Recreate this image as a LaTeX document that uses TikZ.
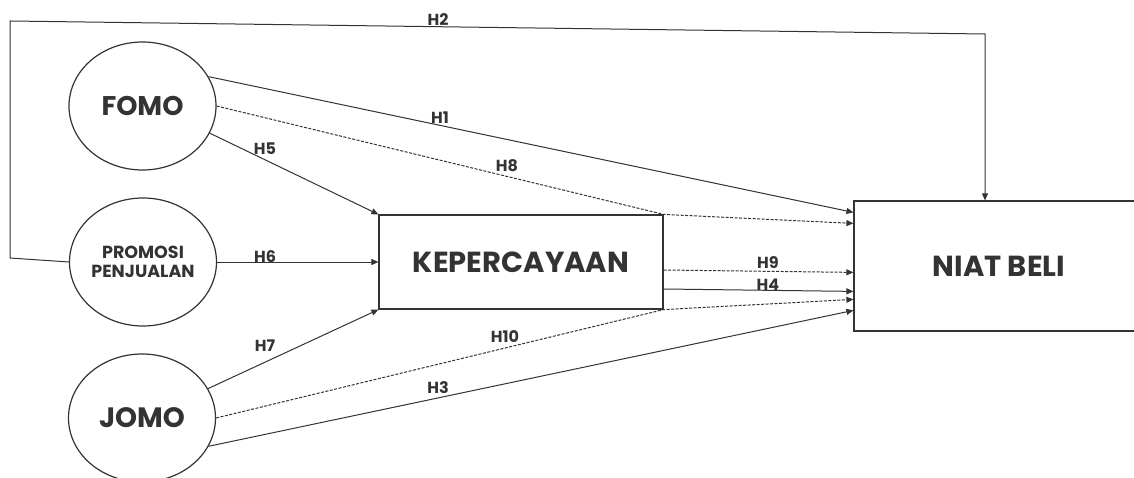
\documentclass[tikz,border=0pt]{standalone}
\usepackage{fontspec}
\setmainfont{Poppins}
\usetikzlibrary{shapes.geometric,arrows.meta,calc}
\definecolor{ink}{HTML}{333333}
\begin{document}
\begin{tikzpicture}[x=1pt,y=-1pt,
  every node/.style={text=ink},
  var/.style={ellipse,draw=ink,line width=1.2pt,minimum width=147pt,minimum height=128pt,inner sep=0pt,align=center},
  box/.style={rectangle,draw=ink,line width=1.2pt,inner sep=0pt,font=\fontsize{29}{29}\bfseries\selectfont},
  link/.style={draw=ink,line width=1pt,-{Triangle[length=7pt,width=6pt]}},
  dlink/.style={link,dash pattern=on 3pt off 1.5pt},
  hlab/.style={font=\fontsize{16}{16}\bfseries\selectfont,inner sep=0pt}]
\useasboundingbox (0,0) rectangle (1134,478);
\clip (0,0) rectangle (1134,478);
\node[var,font=\fontsize{27}{27}\bfseries\selectfont] (fomo) at (142.5,106) {FOMO};
\node[var,font=\fontsize{17.5}{19}\bfseries\selectfont] (promo) at (143,262) {PROMOSI\\PENJUALAN};
\node[var,font=\fontsize{28}{28}\bfseries\selectfont] (jomo) at (142,418) {JOMO};
\node[box,minimum width=284pt,minimum height=94pt] (kep) at (521,262) {KEPERCAYAAN};
\node[box,minimum width=290pt,minimum height=130pt] (niat) at (999,266) {NIAT BELI};
\coordinate (a) at (10,258);
\coordinate (b) at (10,21);
\coordinate (c) at (985,34);
\draw[link] (promo.west) -- (a) -- (b) -- (c) -- (c |- niat.north);
\draw[link] (fomo.24) -- ($(niat.north west)+(0,12)$);
\draw[dlink] (fomo.east) -- (kep.north east) -- ($(niat.north west)+(0,23)$);
\draw[link] (fomo.-22) -- (kep.north west);
\draw[link] (promo.east) -- (kep.west);
\draw[link] (jomo.24) -- (kep.south west);
\draw[dlink] (jomo.east) -- (kep.south east) -- ($(niat.north west)+(0,99)$);
\draw[link] (jomo.-23) -- ($(niat.north west)+(0,110)$);
\draw[dlink] ($(kep.east)+(0,8)$) -- ($(niat.north west)+(0,72)$);
\draw[link] ($(kep.east)+(0,27)$) -- ($(niat.north west)+(0,91)$);
\node[hlab] (h2) at (438,20) {H2};
\node[hlab] (h1) at (440,118) {H1};
\node[hlab] (h8) at (507,166) {H8};
\node[hlab] (h5) at (265,149) {H5};
\node[hlab] (h6) at (265,257) {H6};
\node[hlab] (h7) at (265,346) {H7};
\node[hlab] (h10) at (505,337) {H10};
\node[hlab] (h3) at (438,388) {H3};
\node[hlab] (h9) at (768,263) {H9};
\node[hlab] (h4) at (768,285) {H4};
\end{tikzpicture}
\end{document}
